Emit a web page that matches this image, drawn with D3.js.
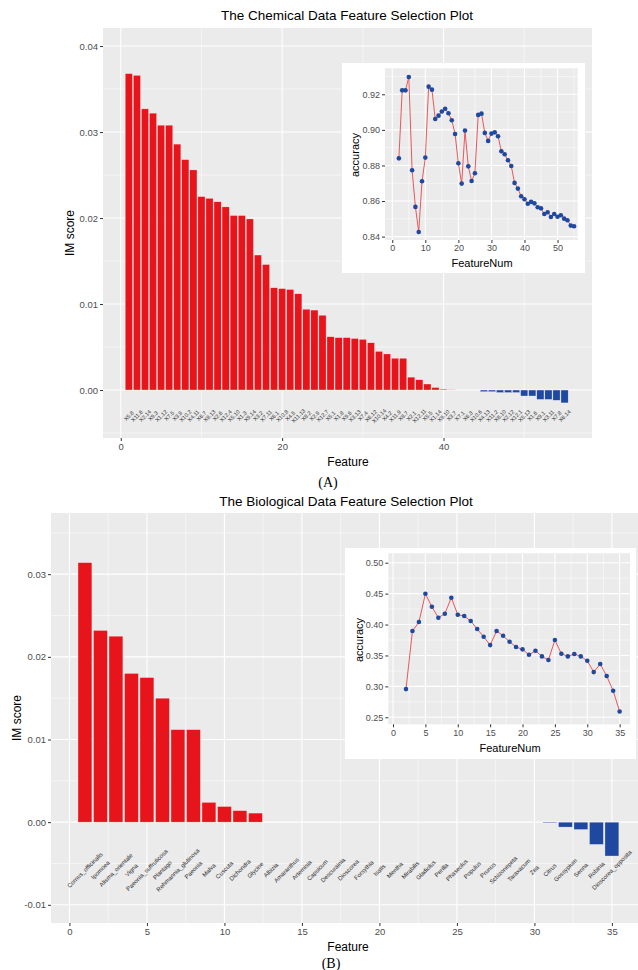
<!DOCTYPE html>
<html>
<head>
<meta charset="utf-8">
<script src="https://cdn.jsdelivr.net/npm/d3@7"></script>
<style>
  body { margin: 0; background: #fff; }
  text { font-family: "Liberation Sans", Arial, sans-serif; }
</style>
</head>
<body>
<svg id="chart" width="638" height="970"></svg>
<script>
// ---- chemical data ----
const chemFeatures = ["X5.8","X11.6","X2.14","X9.3","X1.12","X7.5","X3.9","X10.2","X4.11","X6.7",
  "X8.13","X2.6","X12.4","X5.10","X1.3","X9.14","X3.2","X7.11","X6.1","X10.8",
  "X4.5","X11.13","X8.2","X2.9","X12.7","X5.1","X1.8","X9.6","X3.13","X7.4",
  "X6.12","X10.14","X4.2","X11.9","X8.7","X2.1","X12.11","X5.5","X1.14","X9.10",
  "X3.7","X7.1","X6.3","X10.6","X4.13","X11.2","X8.10","X2.12","X12.1","X5.13",
  "X1.6","X9.1","X3.11","X7.8","X6.14"];
const chemScores = [0.0368, 0.0366, 0.0327, 0.0322, 0.0308, 0.0308, 0.0286, 0.0268, 0.0256, 0.0225,
  0.0223, 0.0219, 0.0213, 0.0203, 0.0203, 0.0199, 0.0157, 0.0146, 0.0119, 0.0118,
  0.0117, 0.0112, 0.0094, 0.0093, 0.0087, 0.0062, 0.0061, 0.0061, 0.0060, 0.0059,
  0.0055, 0.0045, 0.0042, 0.0037, 0.0037, 0.0015, 0.0012, 0.0007, 0.0003, 0.0001,
  0.00003, 0, 0, 0, -0.0002, -0.0002, -0.0003, -0.0003, -0.0003, -0.0007,
  -0.0007, -0.0011, -0.0011, -0.0012, -0.0015];
const chemAccNum = [2,3,4,5,6,7,8,9,10,11,12,13,14,15,16,17,18,19,20,21,22,23,24,25,26,27,28,
  29,30,31,32,33,34,35,36,37,38,39,40,41,42,43,44,45,46,47,48,49,50,51,52,53,54,55];
const chemAcc = [0.884, 0.9222, 0.9222, 0.9297, 0.8773, 0.8567, 0.8426, 0.8711, 0.8844, 0.9243,
  0.9226, 0.9061, 0.908, 0.9103, 0.9119, 0.9093, 0.9054, 0.8977, 0.8812, 0.8698,
  0.8996, 0.8795, 0.8713, 0.8756, 0.9084, 0.9091, 0.8983, 0.8938, 0.8979, 0.8986,
  0.8964, 0.888, 0.8863, 0.8829, 0.8797, 0.8702, 0.867, 0.8627, 0.861, 0.8585,
  0.8595, 0.8587, 0.8565, 0.8559, 0.8527, 0.8537, 0.851, 0.8527, 0.8512, 0.852,
  0.8501, 0.8492, 0.8462, 0.8458];

// ---- biological data ----
const bioFeatures = ["Cornus_officinalis","Ipomoea","Alisma_orientale","Vigna","Paeonia_suffruticosa",
  "Plantago","Rehmannia_glutinosa","Paeonia","Malva","Cuscuta","Dichondra","Glycine","Albizia",
  "Amaranthus","Artemisia","Capsicum","Descurainia","Dioscorea","Forsythia","Isatis","Mentha",
  "Mirabilis","Gladiolus","Perilla","Phaseolus","Populus","Prunus","Schizonepeta","Taraxacum",
  "Zea","Citrus","Gossypium","Senna","Robinia","Dioscorea_opposita"];
const bioScores = [0.0314, 0.0232, 0.0225, 0.0180, 0.0175, 0.0150, 0.0112, 0.0112, 0.0024, 0.0019,
  0.0014, 0.0011, 0, 0, 0, 0, 0, 0, 0, 0,
  0, 0, 0, 0, 0, 0, 0, 0, 0, 0,
  -0.0001, -0.0006, -0.0009, -0.0027, -0.0041];
const bioAccNum = [2,3,4,5,6,7,8,9,10,11,12,13,14,15,16,17,18,19,20,21,22,23,24,25,26,27,28,
  29,30,31,32,33,34,35];
const bioAcc = [0.2956, 0.3895, 0.404, 0.4498, 0.4288, 0.411, 0.4175, 0.4434, 0.4159, 0.4138,
  0.4057, 0.3927, 0.3803, 0.3668, 0.3895, 0.3819, 0.3722, 0.3636, 0.3599, 0.3511,
  0.3576, 0.3485, 0.3426, 0.3749, 0.3528, 0.3485, 0.3523, 0.3485, 0.3414, 0.3231,
  0.3361, 0.3167, 0.2929, 0.2595];

const RED = "#e8141c";
const BLUE = "#1f48a0";
const LINE = "#e8464c";

const svg = d3.select("#chart");
svg.append("rect").attr("width", 638).attr("height", 970).attr("fill", "#fff");

// grey panel with ggplot style grid + axes
function drawPanel(cfg) {
  const { x, y } = cfg;
  const [x0, x1] = x.range();
  const [y0, y1] = y.range(); // y0 bottom, y1 top
  const g = svg.append("g");
  g.append("rect")
    .attr("x", x0).attr("y", y1)
    .attr("width", x1 - x0).attr("height", y0 - y1)
    .attr("fill", "#ebebeb");

  const grid = (vals, w, vertical) => {
    g.selectAll(null).data(vals).join("line")
      .attr("x1", d => vertical ? x(d) : x0)
      .attr("x2", d => vertical ? x(d) : x1)
      .attr("y1", d => vertical ? y0 : y(d))
      .attr("y2", d => vertical ? y1 : y(d))
      .attr("stroke", "#fff")
      .attr("stroke-width", w);
  };
  grid(cfg.yMinor, 0.5, false);
  grid(cfg.xMinor, 0.5, true);
  grid(cfg.yMajor, 1.1, false);
  grid(cfg.xMajor, 1.1, true);

  const style = sel => {
    sel.select(".domain").remove();
    sel.selectAll(".tick line").attr("stroke", "#333");
    sel.selectAll(".tick text")
      .attr("fill", "#4d4d4d")
      .attr("font-size", cfg.tickFont)
      .attr("font-family", "Liberation Sans, Arial, sans-serif");
  };
  g.append("g").attr("transform", `translate(0,${y0})`)
    .call(d3.axisBottom(x).tickValues(cfg.xMajor).tickSize(3).tickPadding(2).tickFormat(d3.format("d")))
    .call(style);
  g.append("g").attr("transform", `translate(${x0},0)`)
    .call(d3.axisLeft(y).tickValues(cfg.yMajor).tickSize(3).tickPadding(2).tickFormat(d => d.toFixed(2)))
    .call(style);

  // axis titles
  g.append("text")
    .attr("x", cfg.xTitle[0]).attr("y", cfg.xTitle[1])
    .attr("text-anchor", "middle")
    .attr("font-size", cfg.titleFont)
    .text(cfg.xLabel);
  g.append("text")
    .attr("transform", `translate(${cfg.yTitle[0]},${cfg.yTitle[1]}) rotate(-90)`)
    .attr("text-anchor", "middle")
    .attr("font-size", cfg.titleFont)
    .text(cfg.yLabel);
  return g;
}

function drawBars(g, x, y, names, scores, labelY, labelFont) {
  const data = names.map((n, i) => ({ n, i: i + 1, v: scores[i] }));
  const w = x(0.9) - x(0);
  g.selectAll(null).data(data).join("rect")
    .attr("x", d => x(d.i) - w / 2)
    .attr("y", d => y(Math.max(0, d.v)))
    .attr("width", w)
    .attr("height", d => Math.abs(y(d.v) - y(0)))
    .attr("fill", d => d.v >= 0 ? RED : BLUE)
    .attr("stroke", "#fff")
    .attr("stroke-opacity", 0.7)
    .attr("stroke-width", 0.5);
  g.selectAll(null).data(data).join("text")
    .attr("transform", d => `translate(${x(d.i)},${y(labelY)}) rotate(-45)`)
    .attr("text-anchor", "middle")
    .attr("dominant-baseline", "central")
    .attr("font-size", labelFont)
    .attr("fill", "#2a2a2a")
    .text(d => d.n);
}

function drawInset(box, cfg, nums, acc) {
  svg.append("rect")
    .attr("x", box[0]).attr("y", box[1])
    .attr("width", box[2] - box[0]).attr("height", box[3] - box[1])
    .attr("fill", "#fff");
  const g = drawPanel(cfg);
  const pts = nums.map((n, i) => [n, acc[i]]);
  g.append("path")
    .attr("d", d3.line().x(d => cfg.x(d[0])).y(d => cfg.y(d[1]))(pts))
    .attr("fill", "none")
    .attr("stroke", LINE)
    .attr("stroke-width", 0.9);
  g.selectAll(null).data(pts).join("circle")
    .attr("cx", d => cfg.x(d[0]))
    .attr("cy", d => cfg.y(d[1]))
    .attr("r", cfg.r)
    .attr("fill", BLUE);
}

// ---------- (A) chemical ----------
const xA = d3.scaleLinear().domain([-2.2, 58.4]).range([103, 592]);
const yA = d3.scaleLinear().domain([-0.00558, 0.0421]).range([438, 28]);
const gA = drawPanel({
  x: xA, y: yA,
  xMajor: [0, 20, 40], xMinor: [10, 30, 50],
  yMajor: [0, 0.01, 0.02, 0.03, 0.04], yMinor: [-0.005, 0.005, 0.015, 0.025, 0.035],
  tickFont: 9.5, titleFont: 12,
  xLabel: "Feature", yLabel: "IM score",
  xTitle: [348, 466], yTitle: [74, 233]
});
drawBars(gA, xA, yA, chemFeatures, chemScores, -0.003, 5.5);
svg.append("text").attr("x", 347).attr("y", 20).attr("text-anchor", "middle")
  .attr("font-size", 13.5).text("The Chemical Data Feature Selection Plot");
svg.append("text").attr("x", 328).attr("y", 487).attr("text-anchor", "middle")
  .attr("font-size", 14).style("font-family", "Liberation Serif, Times New Roman, serif").text("(A)");

drawInset([342, 63, 585, 273], {
  x: d3.scaleLinear().domain([-2.2, 56.1]).range([385, 577.7]),
  y: d3.scaleLinear().domain([0.8381, 0.9346]).range([240, 68.3]),
  xMajor: [0, 10, 20, 30, 40, 50], xMinor: [5, 15, 25, 35, 45, 55],
  yMajor: [0.84, 0.86, 0.88, 0.90, 0.92], yMinor: [0.85, 0.87, 0.89, 0.91, 0.93],
  tickFont: 9, titleFont: 11,
  xLabel: "FeatureNum", yLabel: "accuracy",
  xTitle: [482, 267], yTitle: [359, 155],
  r: 2.3
}, chemAccNum, chemAcc);

// ---------- (B) biological ----------
const xB = d3.scaleLinear().domain([-1.19, 37.2]).range([51, 646]);
const yB = d3.scaleLinear().domain([-0.0122, 0.0374]).range([923, 513]);
const gB = drawPanel({
  x: xB, y: yB,
  xMajor: [0, 5, 10, 15, 20, 25, 30, 35], xMinor: [2.5, 7.5, 12.5, 17.5, 22.5, 27.5, 32.5],
  yMajor: [-0.01, 0, 0.01, 0.02, 0.03], yMinor: [-0.005, 0.005, 0.015, 0.025, 0.035],
  tickFont: 9.5, titleFont: 12,
  xLabel: "Feature", yLabel: "IM score",
  xTitle: [348, 951], yTitle: [21, 718]
});
drawBars(gB, xB, yB, bioFeatures, bioScores, -0.0058, 6);
svg.append("text").attr("x", 346).attr("y", 506).attr("text-anchor", "middle")
  .attr("font-size", 13.5).text("The Biological Data Feature Selection Plot");
svg.append("text").attr("x", 331).attr("y", 968).attr("text-anchor", "middle")
  .attr("font-size", 14).style("font-family", "Liberation Serif, Times New Roman, serif").text("(B)");

drawInset([345, 548, 636, 759], {
  x: d3.scaleLinear().domain([-0.73, 36.6]).range([388.3, 630]),
  y: d3.scaleLinear().domain([0.2387, 0.5152]).range([724.3, 553.3]),
  xMajor: [0, 5, 10, 15, 20, 25, 30, 35], xMinor: [2.5, 7.5, 12.5, 17.5, 22.5, 27.5, 32.5],
  yMajor: [0.25, 0.30, 0.35, 0.40, 0.45, 0.50], yMinor: [0.275, 0.325, 0.375, 0.425, 0.475],
  tickFont: 9, titleFont: 11,
  xLabel: "FeatureNum", yLabel: "accuracy",
  xTitle: [510, 752], yTitle: [363, 640],
  r: 2.3
}, bioAccNum, bioAcc);
</script>
</body>
</html>
